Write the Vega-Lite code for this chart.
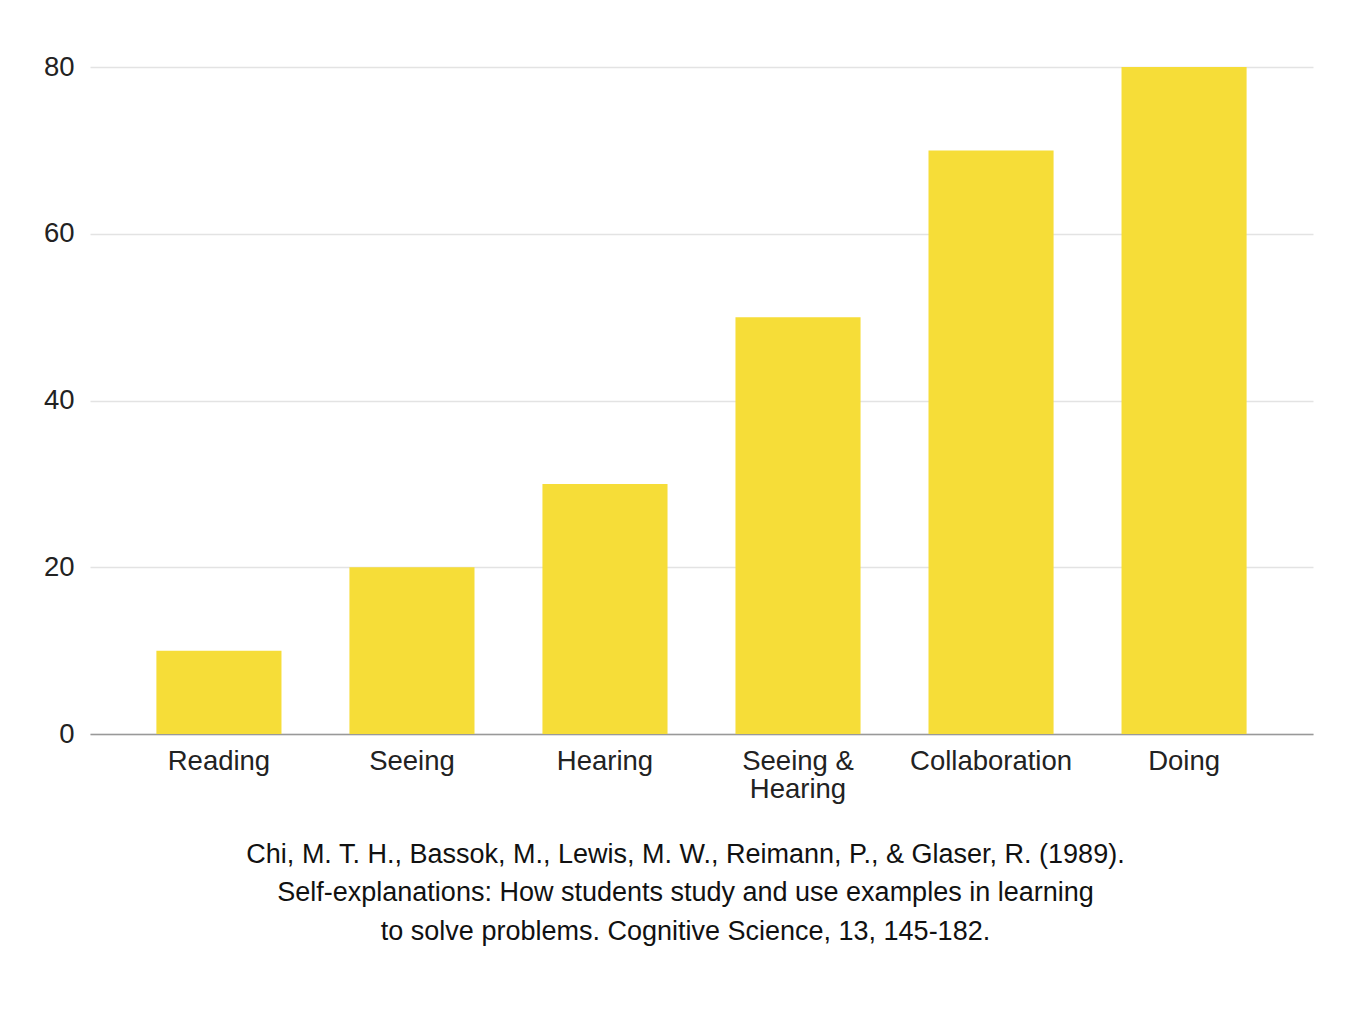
{
  "$schema": "https://vega.github.io/schema/vega-lite/v6.json",
  "autosize": "none",
  "width": 1223,
  "height": 667,
  "padding": {"left": 90, "top": 67, "right": 47, "bottom": 277},
  "background": "white",
  "data": {"values": [
    {"method": "Reading", "value": 10},
    {"method": "Seeing", "value": 20},
    {"method": "Hearing", "value": 30},
    {"method": "Seeing & Hearing", "value": 50},
    {"method": "Collaboration", "value": 70},
    {"method": "Doing", "value": 80}
  ]},
  "title": {
    "text": ["Chi, M. T. H., Bassok, M., Lewis, M. W., Reimann, P., & Glaser, R. (1989).", "Self-explanations: How students study and use examples in learning", "to solve problems. Cognitive Science, 13, 145-182."],
    "orient": "bottom",
    "anchor": "middle",
    "font": "Liberation Sans",
    "fontSize": 27,
    "fontWeight": "normal",
    "color": "#111111",
    "lineHeight": 38.5,
    "offset": 39,
    "dx": -16
  },
  "mark": {"type": "bar", "color": "#F6DD38"},
  "encoding": {
    "x": {
      "field": "method", "type": "nominal", "sort": null,
      "scale": {"paddingInner": 0.352, "paddingOuter": 0.344},
      "axis": {
        "title": null, "labelAngle": 0, "ticks": false, "domainColor": "#999999", "domainWidth": 1.5,
        "labelFont": "Liberation Sans", "labelFontSize": 27.5, "labelColor": "#222222", "labelPadding": 13,
        "labelLineHeight": 28,
        "labelExpr": "datum.label == 'Seeing & Hearing' ? ['Seeing &', 'Hearing'] : datum.label"
      }
    },
    "y": {
      "field": "value", "type": "quantitative",
      "scale": {"domain": [0, 80], "nice": false},
      "axis": {
        "title": null, "values": [0, 20, 40, 60, 80], "domain": false, "ticks": false,
        "gridColor": "#e3e3e3", "gridWidth": 1.5,
        "labelFont": "Liberation Sans", "labelFontSize": 27.5, "labelColor": "#222222", "labelPadding": 16
      }
    }
  },
  "config": {"view": {"stroke": null}}
}
